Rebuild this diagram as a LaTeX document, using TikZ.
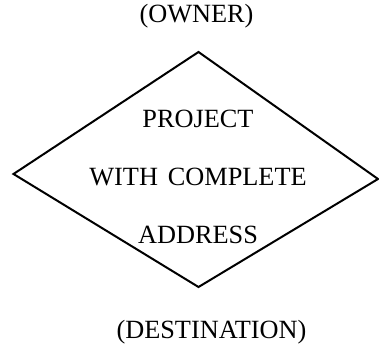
\documentclass[tikz,border=0pt]{standalone}
\usepackage{fontspec}
\setmainfont[WordSpace=1.5]{Liberation Serif}
\usetikzlibrary{positioning}

\begin{document}
\begin{tikzpicture}[x=1pt,y=-1pt,
  lbl/.style={inner sep=0pt,font=\fontsize{26.3}{58}\selectfont},
  edge/.style={draw=black,line width=2pt,line join=miter}
]
  \useasboundingbox (0,0) rectangle (379,355);
  % diamond corners
  \coordinate (top) at (198.5,52);
  \coordinate (right) at (378,179);
  \coordinate (bottom) at (198.5,287);
  \coordinate (left) at (13.5,174);
  \draw[edge] (top) -- (right) -- (bottom) -- (left) -- cycle;
  \node[lbl,align=center] (proj) at (198,176.5) {PROJECT\\WITH COMPLETE\\ADDRESS};
  \node[lbl,anchor=base] (owner) at (196.5,23) {(OWNER)};
  \node[lbl,anchor=base] (dest) at (211.5,338) {(DESTINATION)};
\end{tikzpicture}
\end{document}
